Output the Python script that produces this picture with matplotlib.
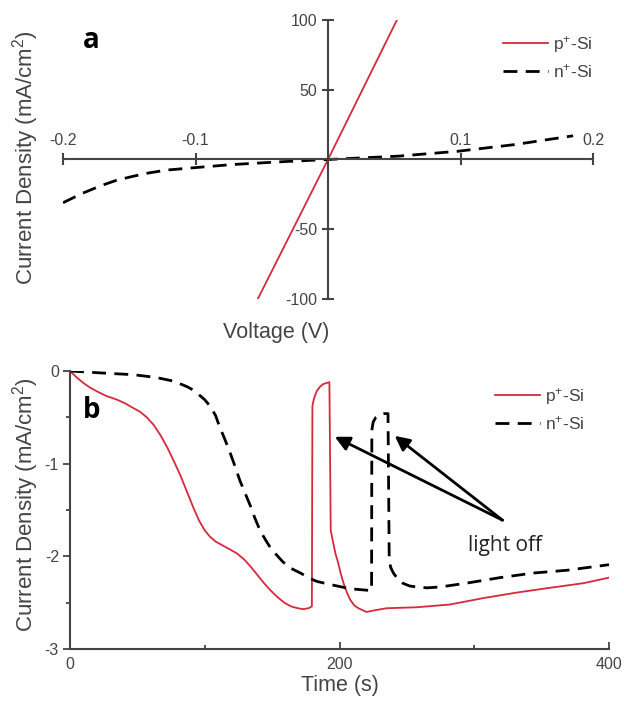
import matplotlib
matplotlib.use("Agg")
import matplotlib.pyplot as plt
from matplotlib.ticker import FixedLocator

plt.rcParams['font.family'] = ['Liberation Sans', 'DejaVu Sans']
plt.rcParams['mathtext.fontset'] = 'custom'
plt.rcParams['mathtext.rm'] = 'Liberation Sans'
plt.rcParams['mathtext.it'] = 'Liberation Sans:italic'
plt.rcParams['axes.unicode_minus'] = False

RED = '#d8283c'
GRAY = '#444444'

# panel a: J-V
v_p = [-0.053, 0.0, 0.052]
j_p = [-100, 0, 100]
v_n = [-0.2, -0.186, -0.172, -0.16, -0.147, -0.135, -0.122, -0.1, -0.072, -0.035, 0.0,
       0.053, 0.098, 0.141, 0.185]
j_n = [-31, -24.5, -19, -15, -12, -9.6, -7.6, -5.8, -3.6, -1.6, 0.0,
       2.4, 5.9, 10.7, 17]

# panel b: transients
t_p = [0, 5, 10, 15, 20, 27, 35, 41, 47, 52, 57, 62, 67, 72, 77, 82, 87, 92, 96, 100, 104, 108,
       113, 118, 124, 129, 134, 139, 144, 149, 154, 159, 164, 169, 173, 177, 179.5,
       179.9, 181, 183, 185.5, 188, 192.5,
       193.5, 195.4, 197, 199, 201, 203, 205.5, 208, 211, 214, 220, 227, 235, 257, 282,
       307, 332, 356, 381, 400]
j_pt = [0, -0.07, -0.13, -0.18, -0.22, -0.27, -0.31, -0.35, -0.40, -0.44, -0.50, -0.58, -0.69,
        -0.82, -0.97, -1.13, -1.31, -1.49, -1.62, -1.72, -1.79, -1.84,
        -1.88, -1.92, -1.97, -2.03, -2.11, -2.20, -2.29, -2.37, -2.44, -2.50, -2.54, -2.56, -2.57,
        -2.56, -2.54,
        -0.38, -0.30, -0.22, -0.17, -0.14, -0.12,
        -1.72, -1.86, -1.97, -2.07, -2.19, -2.29, -2.39, -2.47, -2.53, -2.56, -2.60, -2.58, -2.56,
        -2.55, -2.52, -2.45, -2.39, -2.34, -2.29, -2.23]
t_n = [0, 22, 47, 64, 77, 87, 92, 96, 100, 104, 108, 111, 115, 119, 123, 126, 130, 134, 137, 141,
       145, 148, 153, 158, 164, 171, 177, 183, 195, 208, 223.8,
       224, 225, 227, 230, 233, 236,
       236.9, 238, 240, 243, 247, 252, 257, 265, 275, 294, 319, 344, 369, 400]
j_nt = [0, -0.02, -0.04, -0.07, -0.11, -0.17, -0.21, -0.26, -0.31, -0.38, -0.48, -0.60, -0.74,
        -0.89, -1.05, -1.18, -1.32, -1.46, -1.58, -1.72,
        -1.82, -1.89, -1.98, -2.06, -2.13, -2.18, -2.23, -2.27, -2.31, -2.35, -2.37,
        -0.64, -0.55, -0.50, -0.47, -0.46, -0.46,
        -2.04, -2.12, -2.18, -2.24, -2.29, -2.32, -2.33, -2.34, -2.33, -2.29, -2.23, -2.18, -2.15,
        -2.09]

fig = plt.figure(figsize=(6.24, 7.06), dpi=100)

# ---- panel a ----
ax1 = fig.add_axes([63/624, 1-299/706, 530/624, 279/706])
ax1.plot(v_p, j_p, color=RED, lw=1.3, label='p$^{+}$-Si')
ax1.plot(v_n, j_n, color='k', lw=2, dashes=(5, 3), label='n$^{+}$-Si')
ax1.set_xlim(-0.2, 0.2)
ax1.set_ylim(-100, 100)
ax1.spines['left'].set_position(('data', 0))
ax1.spines['top'].set_position(('data', 0))
ax1.spines['right'].set_visible(False)
ax1.spines['bottom'].set_visible(False)
for s in ('left', 'top'):
    ax1.spines[s].set_color(GRAY)
    ax1.spines[s].set_linewidth(1.5)
ax1.xaxis.tick_top()
ax1.set_xticks([-0.2, -0.1, 0.1, 0.2])
ax1.set_xticklabels(['-0.2', '-0.1', '0.1', '0.2'])
ax1.set_yticks([-100, -50, 50, 100])
ax1.tick_params(direction='inout', length=9, width=1.5, color=GRAY, labelcolor=GRAY,
                labelsize=11.5, pad=3)
ax1.tick_params(axis='x', pad=4)
ax1.patch.set_alpha(0)
ax1.legend(loc='upper left', bbox_to_anchor=(487/624, 1-18/706), bbox_transform=fig.transFigure,
           frameon=False, fontsize=12.5, handlelength=2.6, handletextpad=0.3, labelspacing=0.45,
           labelcolor=GRAY)
fig.text(91/624, 1-40/706, 'a', fontsize=20, fontweight='bold', family='Open Sans',
         ha='center', va='center')
fig.text(26/624, 1-158/706, 'Current Density (mA/cm$^{2}$)', rotation=90, fontsize=16,
         color=GRAY, ha='center', va='center')
fig.text(276/624, 1-333/706, 'Voltage (V)', fontsize=15.5, color=GRAY, ha='center', va='center')

# ---- panel b ----
ax2 = fig.add_axes([70/624, 1-649/706, 539/624, 278/706])
ax2.plot(t_p, j_pt, color=RED, lw=1.3, label='p$^{+}$-Si')
ax2.plot(t_n, j_nt, color='k', lw=2, dashes=(5, 3), label='n$^{+}$-Si')
ax2.set_xlim(0, 400)
ax2.set_ylim(-3, 0)
ax2.spines['right'].set_visible(False)
ax2.spines['top'].set_visible(False)
for s in ('left', 'bottom'):
    ax2.spines[s].set_color(GRAY)
    ax2.spines[s].set_linewidth(1.5)
ax2.set_xticks([0, 200, 400])
ax2.xaxis.set_minor_locator(FixedLocator([100, 300]))
ax2.set_yticks([-3, -2, -1, 0])
ax2.yaxis.set_minor_locator(FixedLocator([-2.5, -1.5, -0.5]))
ax2.tick_params(axis='x', which='both', direction='in', width=1.3, color=GRAY, labelcolor=GRAY,
                labelsize=11.5, pad=6)
ax2.tick_params(axis='x', which='major', length=5)
ax2.tick_params(axis='x', which='minor', length=3)
ax2.tick_params(axis='y', which='both', direction='out', width=1.3, color=GRAY, labelcolor=GRAY,
                labelsize=11.5, pad=3)
ax2.tick_params(axis='y', which='major', length=5)
ax2.tick_params(axis='y', which='minor', length=3)
ax2.set_xlabel('Time (s)', fontsize=15.5, color=GRAY, labelpad=2)
ax2.legend(loc='upper left', bbox_to_anchor=(479/624, 1-370/706), bbox_transform=fig.transFigure,
           frameon=False, fontsize=12.5, handlelength=2.6, handletextpad=0.3, labelspacing=0.45,
           labelcolor=GRAY)
fig.text(92/624, 1-410/706, 'b', fontsize=20, fontweight='bold', family='Open Sans',
         ha='center', va='center')
fig.text(26/624, 1-505/706, 'Current Density (mA/cm$^{2}$)', rotation=90, fontsize=16,
         color=GRAY, ha='center', va='center')

tail = (321, -1.61)
for tip in [(196.5, -0.71), (241, -0.70)]:
    ax2.annotate('', xy=tip, xytext=tail,
                 arrowprops=dict(arrowstyle='-|>', color='k', lw=2, mutation_scale=22,
                                 shrinkA=0, shrinkB=0))
ax2.text(323, -1.88, 'light off', fontsize=15, family='Open Sans', color='#222222',
         ha='center', va='center')

fig.savefig('out.png', dpi=100)
